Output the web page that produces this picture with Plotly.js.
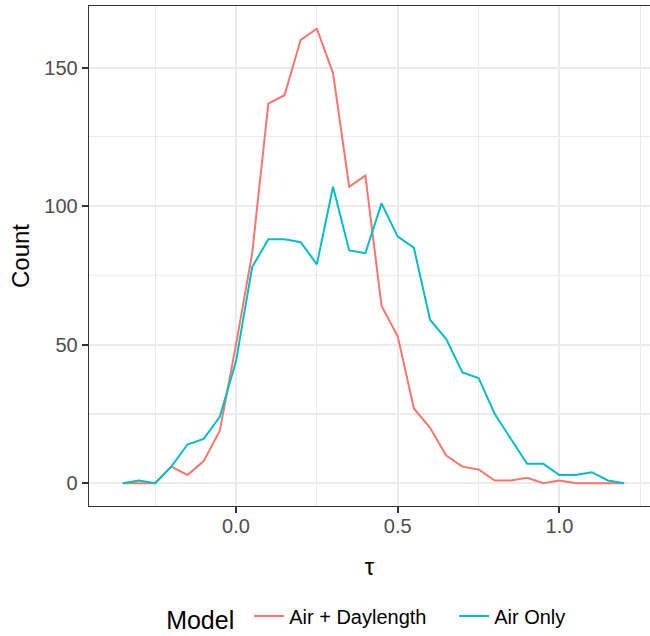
<!DOCTYPE html>
<html>
<head>
<meta charset="utf-8">
<script src="https://cdn.plot.ly/plotly-3.0.1.min.js"></script>
<style>
html, body { margin: 0; padding: 0; overflow: hidden; background: #fff; }
#chart { width: 650px; height: 636px; }
</style>
</head>
<body>
<div id="chart"></div>
<script>
// tau values (x)
const tau = [-0.35, -0.30, -0.25, -0.20, -0.15, -0.10, -0.05, 0.00, 0.05, 0.10,
             0.15, 0.20, 0.25, 0.30, 0.35, 0.40, 0.45, 0.50, 0.55, 0.60,
             0.65, 0.70, 0.75, 0.80, 0.85, 0.90, 0.95, 1.00, 1.05, 1.10,
             1.15, 1.20];
// Counts: Air + Daylength
const airDaylength = [0, 0, 0, 6, 3, 8, 19, 50, 83, 137,
                      140, 160, 164, 148, 107, 111, 64, 53, 27, 20,
                      10, 6, 5, 1, 1, 2, 0, 1, 0, 0,
                      0, 0];
// Counts: Air Only
const airOnly = [0, 1, 0, 6, 14, 16, 24, 44, 78, 88,
                 88, 87, 79, 107, 84, 83, 101, 89, 85, 59,
                 52, 40, 38, 25, 16, 7, 7, 3, 3, 4,
                 1, 0];
const seriesNames = ["Air + Daylength", "Air Only"];
const legendTitle = "Model";
const xTitle = "τ";
const yTitle = "Count";
const xTickVals = [0.0, 0.5, 1.0];
const xTickText = ["0.0", "0.5", "1.0"];
const yTickVals = [0, 50, 100, 150];
const yTickText = ["0", "50", "100", "150"];

const font = "Liberation Sans, Arial, sans-serif";

const traces = [
  { x: tau, y: airDaylength, name: seriesNames[0], type: "scatter", mode: "lines",
    line: { color: "#F8766D", width: 2 } },
  { x: tau, y: airOnly, name: seriesNames[1], type: "scatter", mode: "lines",
    line: { color: "#00BFC4", width: 2 } }
];

const gridCol = "#EBEBEB";
const layout = {
  width: 650, height: 636,
  margin: { l: 89, r: 0, t: 6, b: 130, pad: 0, autoexpand: false },
  paper_bgcolor: "#ffffff",
  plot_bgcolor: "#ffffff",
  font: { family: font, color: "#4D4D4D" },
  showlegend: true,
  legend: {
    orientation: "h",
    x: 0.576, xanchor: "center",
    y: -0.224, yanchor: "middle",
    title: { text: legendTitle + "\u00a0", side: "left", font: { size: 25, color: "#000000", family: font } },
    font: { size: 20, color: "#000000", family: font },
    itemwidth: 30,
    entrywidth: 160,
    bgcolor: "rgba(0,0,0,0)"
  },
  xaxis: {
    range: [-0.4545, 1.280],
    tickmode: "array", tickvals: xTickVals, ticktext: xTickText,
    ticks: "outside", ticklen: 6, tickwidth: 2, tickcolor: "#333333",
    ticklabelstandoff: -4,
    tickfont: { size: 20, color: "#4D4D4D", family: font },
    showgrid: true, gridcolor: gridCol, gridwidth: 2,
    minor: { tickvals: [-0.25, 0.25, 0.75, 1.25], showgrid: true, gridcolor: gridCol, gridwidth: 1.2, ticks: "" },
    showline: true, linecolor: "#333333", linewidth: 1.3, mirror: true,
    zeroline: false,
    title: { text: xTitle, font: { size: 24, color: "#000000", family: font }, standoff: 22 }
  },
  yaxis: {
    range: [-8.2, 172.2],
    tickmode: "array", tickvals: yTickVals, ticktext: yTickText,
    ticks: "outside", ticklen: 6, tickwidth: 2, tickcolor: "#333333",
    tickfont: { size: 20, color: "#4D4D4D", family: font },
    showgrid: true, gridcolor: gridCol, gridwidth: 2,
    minor: { tickvals: [25, 75, 125], showgrid: true, gridcolor: gridCol, gridwidth: 1.2, ticks: "" },
    showline: true, linecolor: "#333333", linewidth: 1.3, mirror: false,
    zeroline: false,
    title: { text: yTitle, font: { size: 24, color: "#000000", family: font }, standoff: 8 }
  }
};

Plotly.newPlot("chart", traces, layout, { displayModeBar: false, staticPlot: true });
</script>
</body>
</html>
